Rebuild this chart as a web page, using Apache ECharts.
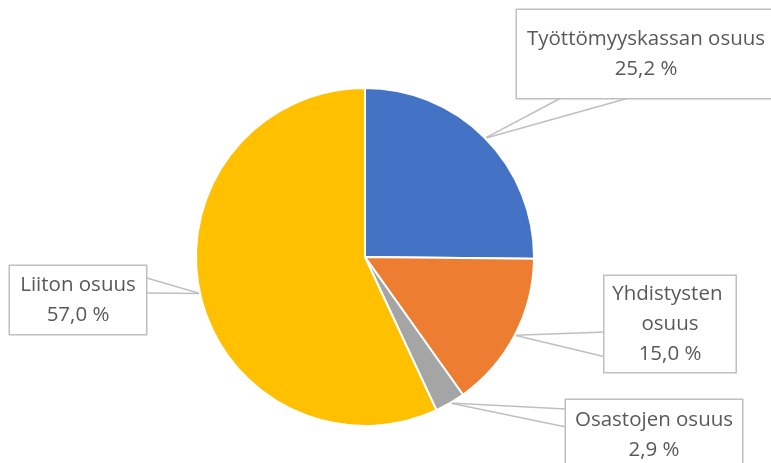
<!DOCTYPE html>
<html>
<head>
<meta charset="utf-8">
<script src="https://cdn.jsdelivr.net/npm/echarts@6/dist/echarts.min.js"></script>
<style>
html,body{margin:0;padding:0;background:#fff;}
#chart{width:771px;height:463px;}
</style>
</head>
<body>
<div id="chart"></div>
<script>
const categories = ['Työttömyyskassan osuus', 'Yhdistysten osuus', 'Osastojen osuus', 'Liiton osuus'];
const values = [25.2, 15.0, 2.9, 57.0];
const colors = ['#4472C4', '#ED7D31', '#A5A5A5', '#FFC000'];

// callout box layout (center x, center y, width, vertical padding)
const boxes = [
  { x: 646, y: 54, w: 258, pad: 14 },
  { x: 670, y: 324, w: 131, pad: 3 },
  { x: 654, y: 435, w: 176, pad: 5 },
  { x: 78, y: 300, w: 136, pad: 4 }
];
// callout pointer base points (two per box)
const pointerA = [[560, 98], [606, 332], [566, 409], [145, 277]];
const pointerB = [[627, 98], [606, 357], [566, 427], [145, 293]];

const fmt = v => v.toFixed(1).replace('.', ',') + '\u00a0%';
const CENTER = [365, 257];
const RADIUS = 169;
const lineColor = '#BFBFBF';

function pointerSeries(points) {
  return {
    type: 'pie',
    center: CENTER,
    radius: [0, RADIUS],
    startAngle: 90,
    clockwise: true,
    silent: true,
    data: categories.map((name, i) => ({ name: name, value: values[i] })),
    itemStyle: { color: 'rgba(0,0,0,0)', borderWidth: 0 },
    label: {
      show: true,
      position: 'outside',
      formatter: () => ' ',
      fontSize: 1,
      padding: 0,
      color: 'rgba(0,0,0,0)'
    },
    labelLine: {
      show: true,
      length: 10,
      length2: 0,
      lineStyle: { color: lineColor, width: 1.5 }
    },
    labelLayout: function (params) {
      const p = points[params.dataIndex];
      return { x: p[0], y: p[1], align: 'center', verticalAlign: 'middle' };
    },
    emphasis: { disabled: true }
  };
}

const chart = echarts.init(document.getElementById('chart'), null, { renderer: 'canvas' });
chart.setOption({
  backgroundColor: '#ffffff',
  animation: false,
  series: [
    pointerSeries(pointerA),
    pointerSeries(pointerB),
    {
      type: 'pie',
      center: CENTER,
      radius: [0, RADIUS],
      startAngle: 90,
      clockwise: true,
      data: categories.map((name, i) => ({
        name: name,
        value: values[i],
        itemStyle: { color: colors[i] },
        label: {
          width: boxes[i].w,
          padding: [boxes[i].pad, 0, boxes[i].pad, 0]
        }
      })),
      itemStyle: { borderColor: '#ffffff', borderWidth: 2 },
      label: {
        show: true,
        position: 'outside',
        formatter: p => p.name + '\n' + fmt(p.value),
        fontFamily: 'Open Sans',
        fontSize: 20.5,
        lineHeight: 30,
        color: '#595959',
        align: 'center',
        overflow: 'break',
        backgroundColor: '#ffffff',
        borderColor: lineColor,
        borderWidth: 1.5
      },
      labelLine: { show: false },
      labelLayout: function (params) {
        const b = boxes[params.dataIndex];
        return { x: b.x, y: b.y, align: 'center', verticalAlign: 'middle' };
      },
      emphasis: { disabled: true }
    }
  ]
});
</script>
</body>
</html>
